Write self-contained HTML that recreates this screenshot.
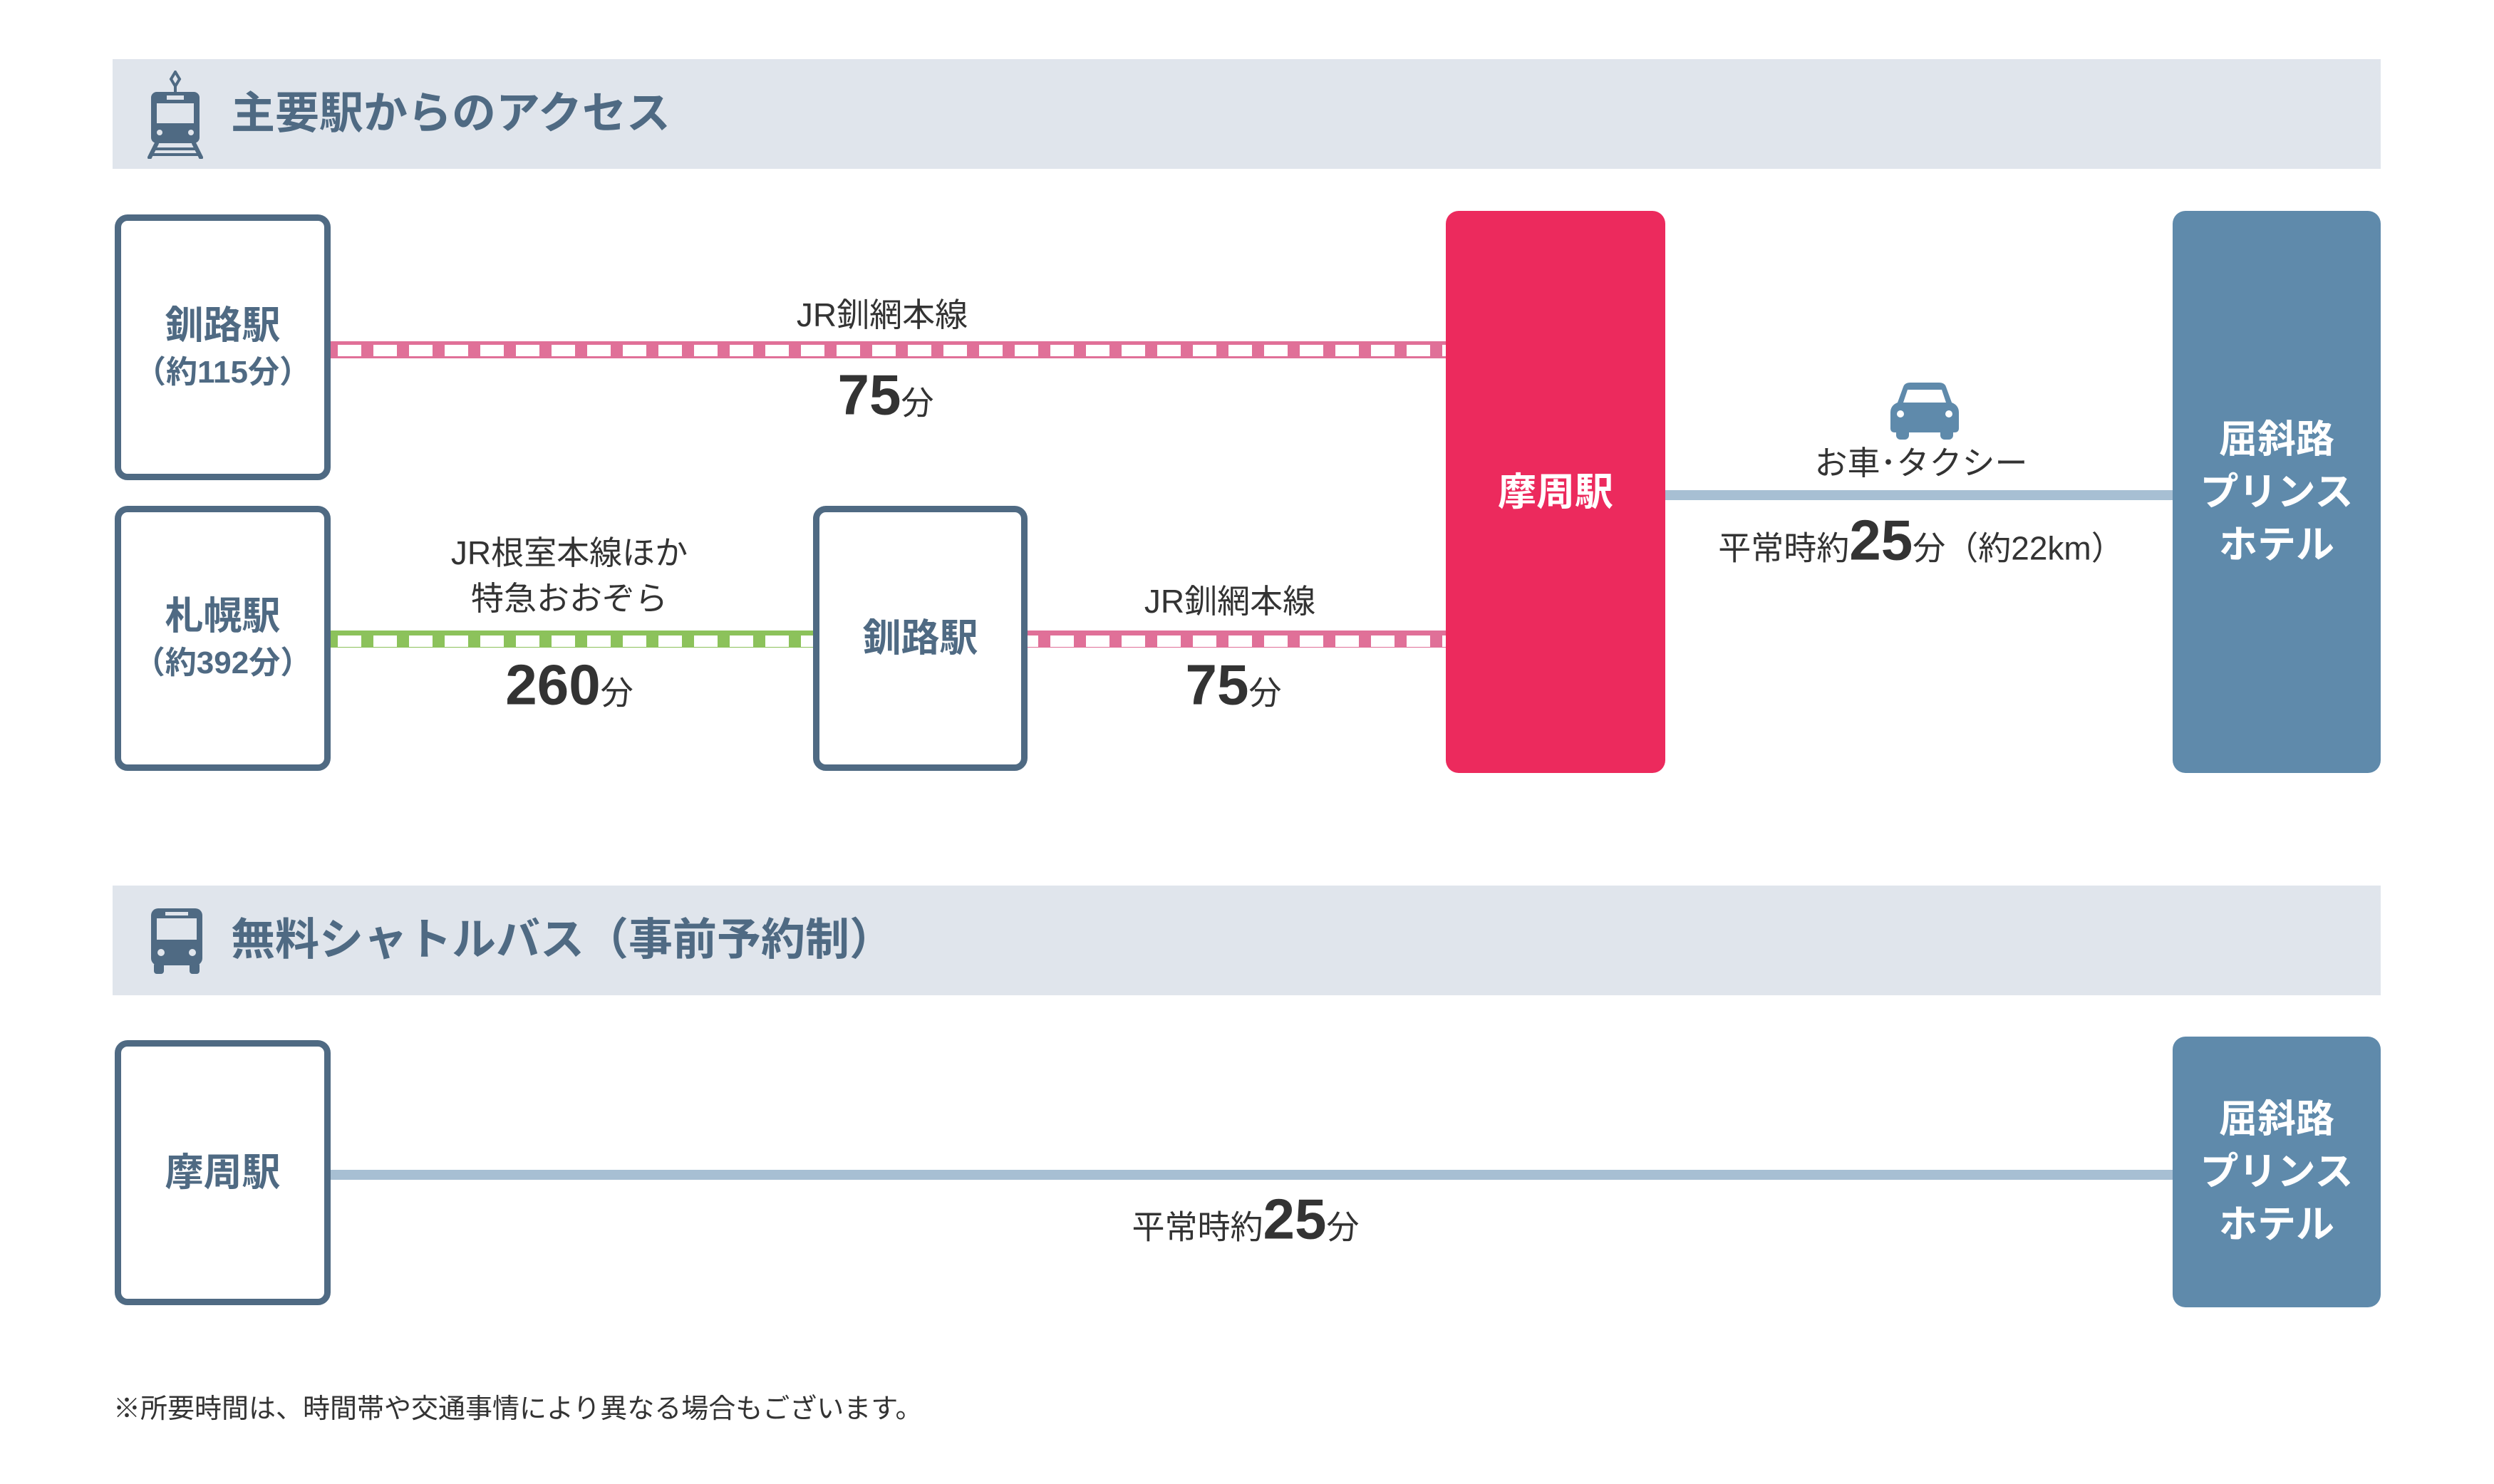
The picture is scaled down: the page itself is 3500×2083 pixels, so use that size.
<!DOCTYPE html>
<html><head><meta charset="utf-8"><style>
html,body{margin:0;padding:0;background:#fff;}
body{width:3500px;height:2083px;position:relative;overflow:hidden;font-family:"Liberation Sans","Noto Sans CJK JP",sans-serif;}
.a{position:absolute;}
.hdr{background:#e0e5ec;left:158px;width:3183px;height:154px;}
.ht{position:absolute;left:166px;top:0;height:154px;line-height:154px;font-size:62px;font-weight:bold;color:#4f6a83;}
.box{position:absolute;box-sizing:border-box;border:9px solid #4f6a83;border-radius:18px;background:#fff;color:#4f6a83;font-weight:bold;display:flex;flex-direction:column;align-items:center;justify-content:center;text-align:center;}
.n{font-size:54px;line-height:70px;}
.s{font-size:44px;line-height:62px;}
.lbl{position:absolute;transform:translate(-50%,-50%);white-space:nowrap;color:#333;font-size:46px;text-align:center;line-height:64px;}
.big{font-size:80px;font-weight:bold;}
.fill{position:absolute;border-radius:18px;color:#fff;font-weight:bold;font-size:54px;line-height:74px;display:flex;flex-direction:column;align-items:center;justify-content:center;text-align:center;}
</style></head><body>

<div class="a hdr" style="top:83px;">
  <svg class="a" style="left:48px;top:16px" width="80" height="124" viewBox="0 0 80 124">
    <path d="M40 2 L46 12 L40 22 L34 12Z" fill="none" stroke="#4f6a83" stroke-width="4"/>
    <rect x="38" y="20" width="4" height="10" fill="#4f6a83"/>
    <rect x="6" y="30" width="68" height="72" rx="8" fill="#4f6a83"/>
    <rect x="14" y="46" width="52" height="28" fill="#e0e5ec"/>
    <rect x="28" y="35" width="24" height="6" fill="#e0e5ec"/>
    <circle cx="18" cy="87" r="4" fill="#e0e5ec"/><circle cx="62" cy="87" r="4" fill="#e0e5ec"/>
    <path d="M14 102 L4 122 M66 102 L76 122" stroke="#4f6a83" stroke-width="6" stroke-linecap="round"/>
    <rect x="12" y="108" width="56" height="4" fill="#4f6a83"/><rect x="8" y="116" width="64" height="4" fill="#4f6a83"/>
  </svg>
  <div class="ht">主要駅からのアクセス</div>
</div>

<svg class="a" style="left:0;top:0" width="3500" height="2083">
  <defs>
    <pattern id="pp" x="465" y="0" width="50" height="24" patternUnits="userSpaceOnUse">
      <rect width="50" height="24" fill="#e07098"/><rect x="9" y="4" width="33" height="16" fill="#fff"/>
    </pattern>
    <pattern id="gp" x="465" y="0" width="50" height="24" patternUnits="userSpaceOnUse">
      <rect width="50" height="24" fill="#8cc25b"/><rect x="9" y="4" width="33" height="16" fill="#fff"/>
    </pattern>
  </defs>
  <rect x="464" y="479" width="1566" height="24" fill="url(#pp)"/>
  <rect x="464" y="885" width="678" height="24" fill="url(#gp)"/>
  <rect x="1441" y="885" width="589" height="24" fill="url(#pp)"/>
  <rect x="2336" y="688" width="714" height="14" fill="#a7bfd3"/>
  <rect x="464" y="1642" width="2586" height="14" fill="#a7bfd3"/>
  <g transform="translate(2651,537)" fill="#5f8aab">
    <path d="M20 6 Q22 0 30 0 H70 Q78 0 80 6 L88 28 Q98 32 98 42 V64 Q98 70 92 70 H8 Q2 70 2 64 V42 Q2 32 12 28Z"/>
    <rect x="10" y="64" width="18" height="16" rx="6"/><rect x="72" y="64" width="18" height="16" rx="6"/>
    <path d="M26 10 H74 L80 28 H20Z" fill="#fff"/>
    <circle cx="16" cy="44" r="5" fill="#fff"/><circle cx="84" cy="44" r="5" fill="#fff"/>
  </g>
</svg>

<div class="box" style="left:161px;top:301px;width:303px;height:373px;"><div class="n">釧路駅</div><div class="s">（約115分）</div></div>
<div class="box" style="left:161px;top:710px;width:303px;height:372px;"><div class="n">札幌駅</div><div class="s">（約392分）</div></div>
<div class="box" style="left:1141px;top:710px;width:301px;height:372px;"><div class="n">釧路駅</div></div>
<div class="fill" style="left:2029px;top:296px;width:308px;height:789px;background:#ec2a5d;">摩周駅</div>
<div class="fill" style="left:3049px;top:296px;width:292px;height:789px;background:#5f8aab;">屈斜路<br>プリンス<br>ホテル</div>

<div class="lbl" style="left:1238px;top:442px;">JR釧網本線</div>
<div class="lbl" style="left:1243px;top:560px;"><span class="big">75</span>分</div>
<div class="lbl" style="left:799px;top:808px;">JR根室本線ほか<br>特急おおぞら</div>
<div class="lbl" style="left:799px;top:967px;"><span class="big">260</span>分</div>
<div class="lbl" style="left:1726px;top:844px;">JR釧網本線</div>
<div class="lbl" style="left:1731px;top:967px;"><span class="big">75</span>分</div>
<div class="lbl" style="left:2696px;top:650px;">お車･タクシー</div>
<div class="lbl" style="left:2696px;top:764px;">平常時約<span class="big">25</span>分（約22km）</div>

<div class="a hdr" style="top:1243px;">
  <svg class="a" style="left:52px;top:32px" width="76" height="92" viewBox="0 0 76 92">
    <rect x="2" y="0" width="72" height="80" rx="10" fill="#4f6a83"/>
    <rect x="10" y="14" width="56" height="30" fill="#e0e5ec"/>
    <rect x="22" y="5" width="32" height="5" fill="#e0e5ec"/>
    <circle cx="16" cy="62" r="5" fill="#e0e5ec"/><circle cx="60" cy="62" r="5" fill="#e0e5ec"/>
    <rect x="6" y="76" width="14" height="16" rx="4" fill="#4f6a83"/><rect x="56" y="76" width="14" height="16" rx="4" fill="#4f6a83"/>
  </svg>
  <div class="ht">無料シャトルバス（事前予約制）</div>
</div>

<div class="box" style="left:161px;top:1460px;width:303px;height:372px;"><div class="n">摩周駅</div></div>
<div class="fill" style="left:3049px;top:1455px;width:292px;height:380px;background:#5f8aab;">屈斜路<br>プリンス<br>ホテル</div>
<div class="lbl" style="left:1748px;top:1717px;">平常時約<span class="big">25</span>分</div>

<div class="a" style="left:159px;top:1952px;font-size:38px;color:#333;line-height:52px;">※所要時間は、時間帯や交通事情により異なる場合もございます。</div>
</body></html>
